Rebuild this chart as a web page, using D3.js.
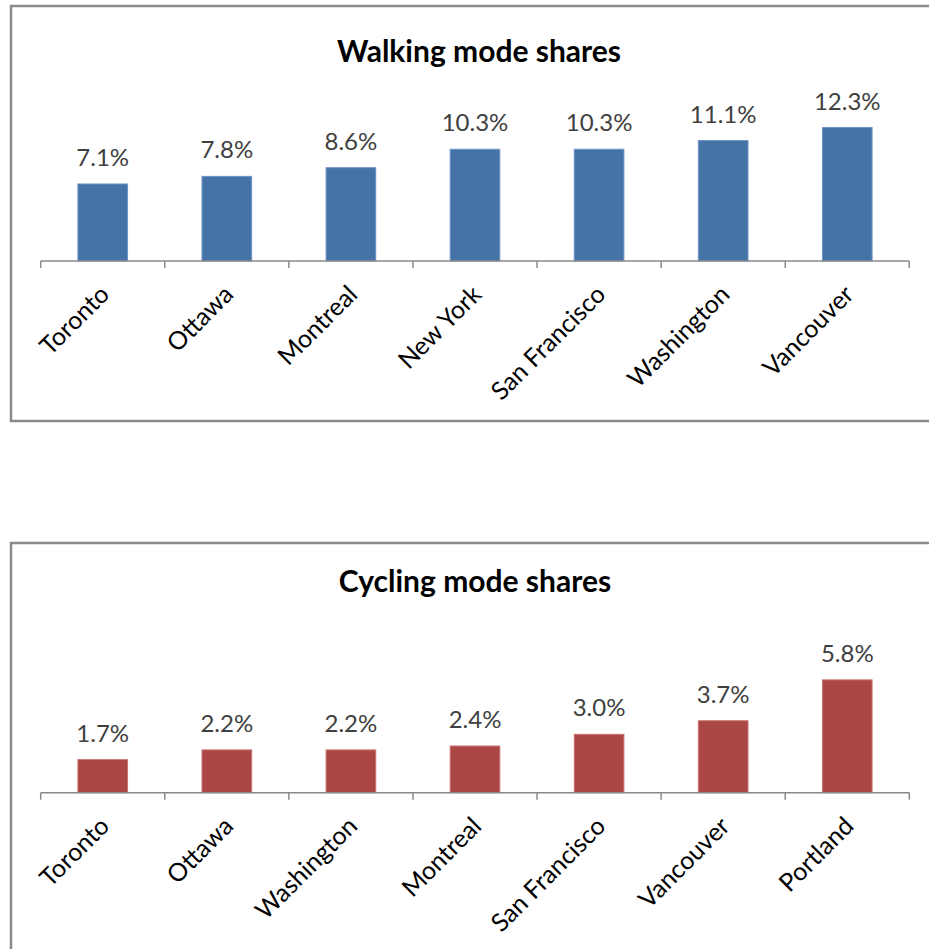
<!DOCTYPE html>
<html>
<head>
<meta charset="utf-8">
<script src="https://cdn.jsdelivr.net/npm/d3@7"></script>
<style>
  html, body { margin: 0; padding: 0; background: #fff; }
  svg { display: block; }
</style>
</head>
<body>
<svg id="chart" width="929" height="949"></svg>
<script>
// ---- Data ----
const walkCities = ["Toronto", "Ottawa", "Montreal", "New York", "San Francisco", "Washington", "Vancouver"];
const walkShares = [7.1, 7.8, 8.6, 10.3, 10.3, 11.1, 12.3];
const walkTitle = "Walking mode shares";

const cycleCities = ["Toronto", "Ottawa", "Washington", "Montreal", "San Francisco", "Vancouver", "Portland"];
const cycleShares = [1.7, 2.2, 2.2, 2.4, 3.0, 3.7, 5.8];
const cycleTitle = "Cycling mode shares";

// ---- Drawing ----
const svg = d3.select("#chart");
const FONT = "Lato, 'Open Sans', sans-serif";

function drawChart(opts) {
  const g = svg.append("g");
  // frame
  g.append("rect")
    .attr("x", opts.frame.x).attr("y", opts.frame.y)
    .attr("width", opts.frame.w).attr("height", opts.frame.h)
    .attr("fill", "#fff").attr("stroke", "#8a8a8a").attr("stroke-width", 2.5);

  const x = d3.scaleBand()
    .domain(opts.categories)
    .range([40.7, 909.3])
    .paddingInner(0.6)
    .paddingOuter(0.3);

  const y = d3.scaleLinear()
    .domain([0, opts.yMax])
    .range([opts.axisY, opts.axisY - opts.yMax * opts.pxPer]);

  // title
  g.append("text")
    .attr("x", opts.titleX).attr("y", opts.titleY)
    .attr("text-anchor", "middle")
    .attr("font-family", FONT).attr("font-weight", "bold")
    .attr("font-size", 30).attr("fill", "#000")
    .text(opts.title);

  // bars
  g.selectAll("rect.bar").data(opts.values).enter().append("rect")
    .attr("class", "bar")
    .attr("x", (d, i) => x(opts.categories[i]))
    .attr("width", x.bandwidth())
    .attr("y", d => y(d))
    .attr("height", d => y(0) - y(d))
    .attr("fill", opts.color)
    .attr("stroke", opts.stroke).attr("stroke-width", 1);

  // value labels
  g.selectAll("text.val").data(opts.values).enter().append("text")
    .attr("class", "val")
    .attr("x", (d, i) => x(opts.categories[i]) + x.bandwidth() / 2)
    .attr("y", d => y(d) - 18)
    .attr("text-anchor", "middle")
    .attr("font-family", FONT).attr("font-size", 24)
    .attr("fill", "#404040")
    .text(d => d.toFixed(1) + "%");

  // axis line + ticks at band boundaries
  const r0 = x.range()[0], step = x.step();
  g.append("line")
    .attr("x1", r0).attr("x2", x.range()[1])
    .attr("y1", opts.axisY).attr("y2", opts.axisY)
    .attr("stroke", "#8a8a8a").attr("stroke-width", 1.5);
  g.selectAll("line.tick").data(d3.range(opts.categories.length + 1)).enter().append("line")
    .attr("class", "tick")
    .attr("x1", i => r0 + i * step).attr("x2", i => r0 + i * step)
    .attr("y1", opts.axisY).attr("y2", opts.axisY + 7)
    .attr("stroke", "#8a8a8a").attr("stroke-width", 1.5);

  // category labels rotated -45
  g.selectAll("text.cat").data(opts.categories).enter().append("text")
    .attr("class", "cat")
    .attr("transform", d => {
      const cx = x(d) + x.bandwidth() / 2 + 8;
      const cy = opts.axisY + 35;
      return `translate(${cx},${cy}) rotate(-45)`;
    })
    .attr("text-anchor", "end")
    .attr("font-family", FONT).attr("font-size", 25)
    .attr("fill", "#000")
    .text(d => d);
}

drawChart({
  frame: { x: 11, y: 6, w: 940, h: 415 },
  categories: walkCities, values: walkShares, title: walkTitle,
  yMax: 14, pxPer: 10.85, axisY: 261,
  titleX: 479, titleY: 62,
  color: "#4572A7", stroke: "#6f93c4"
});

drawChart({
  frame: { x: 11, y: 543, w: 940, h: 440 },
  categories: cycleCities, values: cycleShares, title: cycleTitle,
  yMax: 7, pxPer: 19.45, axisY: 792.7,
  titleX: 475, titleY: 592,
  color: "#AA4643", stroke: "#c97370"
});
</script>
</body>
</html>
